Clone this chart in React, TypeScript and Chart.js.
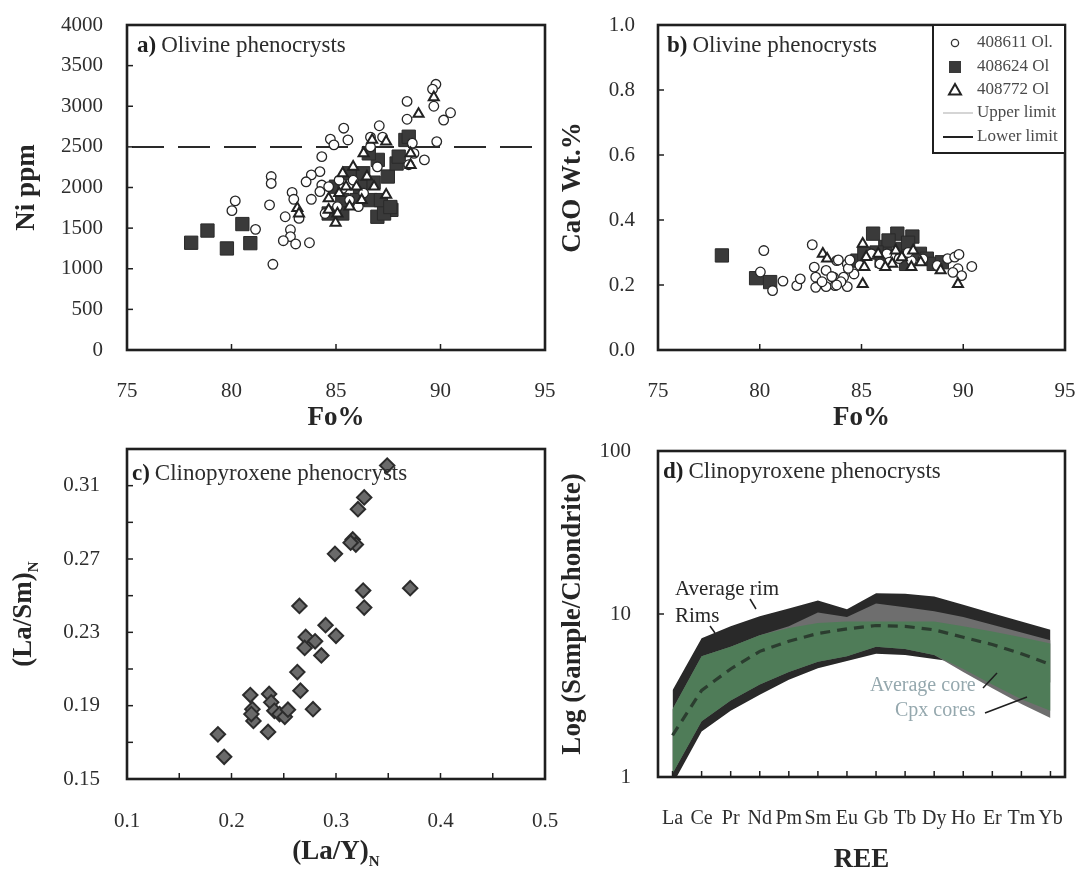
import React, { useEffect, useRef } from "react";
import { Chart, registerables } from "chart.js";

Chart.register(...registerables);

const SERIF = '"Liberation Serif", "Times New Roman", Times, serif';
const INK = "#1f1f1f";
const TICK_INK = "#2e2e2e";

// ---------- Olivine: Fo% vs Ni ppm ----------
const ni611Fo = [89.78, 89.62, 89.68, 88.4, 90.48, 90.15, 88.4, 89.82, 89.23, 88.73, 87.07, 86.65, 87.23, 85.37, 84.73, 85.57, 84.9, 84.32, 84.23, 83.82, 83.57, 84.32, 84.23, 83.82, 82.9, 82.98, 81.9, 81.9, 81.82, 82.57, 82.82, 82.82, 82.48, 83.07, 83.73, 81.15, 80.18, 80.02, 81.98, 83.23, 85.32, 85.65, 84.65, 85.15, 85.82, 86.32, 86.07, 85.07, 84.48, 86.65, 86.98, 88.65, 88.48];
const ni611Ni = [3270, 3210, 3000, 3060, 2920, 2830, 2840, 2565, 2340, 2420, 2760, 2620, 2620, 2730, 2595, 2585, 2525, 2380, 2195, 2155, 2070, 2030, 1950, 1855, 1940, 1855, 2135, 2050, 1785, 1640, 1480, 1395, 1345, 1305, 1320, 1485, 1835, 1715, 1055, 1620, 1990, 1845, 2010, 2090, 2090, 1930, 1765, 1765, 1680, 2500, 2255, 2545, 2280];
const ni624Fo = [78.07, 78.85, 79.78, 80.52, 80.9, 86.98, 87.65, 87.48, 87.9, 88.32, 88.48, 88.0, 87.0, 86.65, 86.15, 85.3, 84.65, 85.0, 85.65, 86.3, 86.57, 87.15, 87.3, 85.3, 85.98, 86.8, 87.6];
const ni624Ni = [1320, 1470, 1250, 1550, 1315, 1640, 1725, 2135, 2295, 2585, 2625, 2380, 2340, 1845, 2010, 1845, 1680, 2010, 2175, 2175, 2420, 1845, 1680, 1680, 1845, 2060, 1760];
const ni772Fo = [89.68, 88.95, 87.4, 86.73, 88.57, 88.57, 83.15, 83.23, 84.98, 85.07, 84.65, 85.15, 85.48, 85.82, 85.32, 86.32, 86.48, 86.23, 87.4, 85.98, 84.65, 86.82, 85.65];
const ni772Ni = [3110, 2905, 2565, 2585, 2275, 2420, 1745, 1680, 1565, 1680, 1865, 1930, 2010, 2255, 2175, 2420, 2135, 1845, 1910, 2010, 1725, 2010, 1765];
const niLimit = 2500;

// ---------- Olivine: Fo% vs CaO wt.% ----------
const ca611Fo = [80.2, 80.03, 80.63, 81.14, 81.82, 81.99, 82.58, 82.68, 82.75, 83.26, 83.78, 84.3, 84.12, 83.7, 82.75, 83.26, 84.3, 84.63, 83.62, 85.48, 85.91, 86.25, 86.85, 87.45, 88.72, 89.23, 89.58, 89.79, 89.74, 89.92, 90.42, 89.49, 83.06, 83.99, 84.92, 86.36, 87.29, 88.02, 83.78, 84.35, 83.86, 84.43, 83.54];
const ca611CaO = [0.306, 0.24, 0.183, 0.212, 0.198, 0.219, 0.324, 0.255, 0.224, 0.245, 0.275, 0.265, 0.224, 0.198, 0.193, 0.195, 0.195, 0.234, 0.224, 0.296, 0.265, 0.296, 0.281, 0.275, 0.26, 0.281, 0.286, 0.294, 0.25, 0.229, 0.257, 0.239, 0.21, 0.21, 0.26, 0.27, 0.3, 0.28, 0.2, 0.251, 0.277, 0.277, 0.226];
const ca624Fo = [78.14, 79.82, 80.51, 85.57, 86.76, 87.5, 86.17, 87.01, 87.87, 88.21, 88.55, 84.8, 85.14, 85.99, 87.19, 86.33, 87.29, 85.74, 88.95];
const ca624CaO = [0.291, 0.221, 0.209, 0.358, 0.358, 0.349, 0.317, 0.311, 0.296, 0.281, 0.265, 0.275, 0.296, 0.275, 0.265, 0.337, 0.33, 0.3, 0.27];
const ca772Fo = [83.1, 83.31, 85.06, 85.06, 85.14, 85.23, 86.51, 87.45, 86.68, 87.54, 88.89, 89.74, 85.82, 86.17, 86.98, 87.91];
const ca772CaO = [0.296, 0.281, 0.327, 0.203, 0.255, 0.286, 0.265, 0.255, 0.306, 0.306, 0.245, 0.203, 0.296, 0.255, 0.285, 0.27];

// ---------- Clinopyroxene: (La/Y)N vs (La/Sm)N ----------
const cpxLaY = [0.349, 0.327, 0.321, 0.316, 0.319, 0.314, 0.299, 0.326, 0.327, 0.371, 0.265, 0.29, 0.3, 0.271, 0.28, 0.27, 0.286, 0.263, 0.266, 0.278, 0.218, 0.22, 0.221, 0.219, 0.236, 0.238, 0.241, 0.246, 0.251, 0.254, 0.235, 0.187, 0.193];
const cpxLaSm = [0.321, 0.3036, 0.2972, 0.2807, 0.2779, 0.2789, 0.2728, 0.2528, 0.2435, 0.2541, 0.2444, 0.2339, 0.2281, 0.2275, 0.2251, 0.2215, 0.2174, 0.2083, 0.1982, 0.1881, 0.1958, 0.1881, 0.1817, 0.1854, 0.1964, 0.1918, 0.1872, 0.1854, 0.1839, 0.1878, 0.1757, 0.1744, 0.1621];
const laYTicks = [0.1, 0.15, 0.2, 0.25, 0.3, 0.35, 0.4, 0.45, 0.5];
const laSmTicks = [0.15, 0.17, 0.19, 0.21, 0.23, 0.25, 0.27, 0.29, 0.31, 0.33];

// ---------- Clinopyroxene REE patterns (chondrite normalised) ----------
const reeLabels = ["La", "Ce", "Pr", "Nd", "Pm", "Sm", "Eu", "Gb", "Tb", "Dy", "Ho", "Er", "Tm", "Yb"];
const rimUpper = [3.4, 7.1, 8.4, 9.7, 10.8, 12.1, 10.7, 13.4, 13.3, 12.8, 11.4, 10.1, 9.0, 8.0];
const rimLower = [0.9, 1.9, 2.55, 3.2, 3.95, 4.65, 5.15, 5.7, 5.6, 5.3, 5.0, 4.6, 4.2, 3.8];
const avgRimUpper = [2.6, 5.5, 6.3, 7.4, 8.4, 10.2, 9.6, 11.6, 11.0, 10.4, 9.6, 8.6, 7.7, 6.9];
const avgRimLower = [1.05, 2.2, 2.95, 3.7, 4.4, 5.1, 5.5, 6.3, 6.1, 5.6, 4.4, 3.5, 2.8, 2.3];
const coreUpper = [2.6, 5.5, 6.3, 7.4, 8.2, 8.8, 9.0, 9.0, 9.0, 9.0, 8.4, 7.8, 7.2, 6.6];
const coreLower = [1.05, 2.2, 2.95, 3.7, 4.4, 5.1, 5.5, 6.3, 6.1, 5.6, 4.6, 3.7, 3.0, 2.55];
const avgCore = [1.8, 3.4, 4.6, 5.9, 6.8, 7.6, 8.1, 8.5, 8.4, 8.0, 7.2, 6.5, 5.7, 4.9];
const reeTicks = [1, 10, 100];

// ---------- page layout (px) ----------
const CANVAS: any = {
  a: { left: 0, top: 0, width: 562, height: 436 },
  b: { left: 540, top: 0, width: 541, height: 436 },
  c: { left: 0, top: 430, width: 562, height: 443 },
  d: { left: 540, top: 430, width: 541, height: 443 },
};
const AREA: any = {
  a: { left: 127, top: 25, right: 545, bottom: 350 },
  b: { left: 658, top: 25, right: 1065, bottom: 350 },
  c: { left: 127, top: 449, right: 545, bottom: 779 },
  d: { left: 658, top: 451, right: 1065, bottom: 777 },
};

const TICK_SIZE = 21;
const TITLE_SIZE = 27;
const LABEL_SIZE = 23;

const zip = (xs: number[], ys: number[]) => xs.map((x, i) => ({ x, y: ys[i] }));

const CIRCLE = { pointStyle: "circle", pointRadius: 4.8, backgroundColor: "#ffffff", borderColor: "#262626", borderWidth: 1.3 };
const SQUARE = { pointStyle: "rect", pointRadius: 9.4, backgroundColor: "#3a3a3a", borderColor: "#2a2a2a", borderWidth: 1 };
const TRIANGLE = { pointStyle: "triangle", pointRadius: 5.8, backgroundColor: "#ffffff", borderColor: "#222222", borderWidth: 2 };

function place(key: string) {
  const c = CANVAS[key];
  const r = AREA[key];
  return {
    padding: { left: 0, top: r.top - c.top, right: c.left + c.width - r.right, bottom: 0 },
    yWidth: r.left - c.left,
    xHeight: c.top + c.height - r.bottom,
  };
}

// fixed-size axis boxes; label overhang must not shrink the plot area
const fixSize = (dim: "width" | "height", size: number) => (s: any) => {
  s[dim] = size;
  s.paddingLeft = 0;
  s.paddingRight = 0;
  s.paddingTop = 0;
  s.paddingBottom = 0;
};

function axis(extra: any, fit: (s: any) => void, pad: number, fmt: (v: number) => string, size = TICK_SIZE) {
  return {
    ...extra,
    ticks: {
      ...(extra.ticks || {}),
      padding: pad,
      autoSkip: false,
      maxRotation: 0,
      color: TICK_INK,
      font: { family: SERIF, size },
      callback: (v: any, i: number, ticks: any[]) => fmt(typeof v === "number" ? v : ticks[i].value),
    },
    grid: { display: false, drawTicks: false },
    border: { display: false },
    afterFit: fit,
  };
}

// Plot frame with short tick marks pointing into the plot
const framePlugin = {
  id: "frame",
  afterDraw(chart: any) {
    const { ctx, chartArea: a } = chart;
    const xs = chart.scales.x;
    const ys = chart.scales.y;
    ctx.save();
    ctx.strokeStyle = INK;
    ctx.lineWidth = 1.5;
    xs.ticks.forEach((_t: any, i: number) => {
      const px = xs.getPixelForTick(i);
      ctx.beginPath();
      ctx.moveTo(px, a.bottom);
      ctx.lineTo(px, a.bottom - 6);
      ctx.stroke();
    });
    ys.ticks.forEach((_t: any, i: number) => {
      const py = ys.getPixelForTick(i);
      ctx.beginPath();
      ctx.moveTo(a.left, py);
      ctx.lineTo(a.left + 6, py);
      ctx.stroke();
    });
    ctx.lineWidth = 2.6;
    ctx.strokeRect(a.left, a.top, a.right - a.left, a.bottom - a.top);
    ctx.restore();
  },
};

function panelLabel(ctx: any, x: number, y: number, tag: string, text: string) {
  ctx.save();
  ctx.textAlign = "left";
  ctx.textBaseline = "alphabetic";
  ctx.fillStyle = INK;
  ctx.font = `bold ${LABEL_SIZE}px ${SERIF}`;
  ctx.fillText(tag, x, y);
  const w = ctx.measureText(tag).width;
  ctx.fillStyle = "#2c2c2c";
  ctx.font = `${LABEL_SIZE}px ${SERIF}`;
  ctx.fillText(text, x + w + 5, y);
  ctx.restore();
}

function axisTitle(ctx: any, cx: number, cy: number, main: string, sub: string, vertical: boolean, size = TITLE_SIZE) {
  ctx.save();
  ctx.translate(cx, cy);
  if (vertical) ctx.rotate(-Math.PI / 2);
  ctx.fillStyle = "#262626";
  ctx.textAlign = "left";
  ctx.textBaseline = "middle";
  ctx.font = `bold ${size}px ${SERIF}`;
  const w1 = ctx.measureText(main).width;
  let w2 = 0;
  const subSize = Math.round(size * 0.55);
  if (sub) {
    ctx.font = `bold ${subSize}px ${SERIF}`;
    w2 = ctx.measureText(sub).width;
  }
  const x0 = -(w1 + w2) / 2;
  ctx.font = `bold ${size}px ${SERIF}`;
  ctx.fillText(main, x0, 0);
  if (sub) {
    ctx.font = `bold ${subSize}px ${SERIF}`;
    ctx.fillText(sub, x0 + w1, size * 0.38);
  }
  ctx.restore();
}

function textLayer(key: string, draw: (ctx: any, a: any, L: (x: number, y: number) => [number, number]) => void) {
  const c = CANVAS[key];
  const L = (x: number, y: number): [number, number] => [x - c.left, y - c.top];
  return {
    id: "text-" + key,
    afterDraw(chart: any) {
      draw(chart.ctx, chart.chartArea, L);
    },
  };
}

function baseOptions(p: any, scales: any) {
  return {
    animation: false,
    responsive: false,
    devicePixelRatio: 1,
    layout: { padding: p.padding },
    plugins: { legend: { display: false }, tooltip: { enabled: false } },
    events: [],
    scales,
  };
}

const intFmt = (v: number) => String(Math.round(v));

function foAxis(p: any) {
  return axis({ type: "linear", min: 75, max: 95, ticks: { stepSize: 5 } }, fixSize("height", p.xHeight), 29, intFmt);
}

function configA() {
  const p = place("a");
  return {
    type: "scatter",
    data: {
      datasets: [
        { label: "Ni limit", data: [{ x: 75, y: niLimit }, { x: 95, y: niLimit }], showLine: true, borderColor: "#2a2a2a", borderWidth: 2, borderDash: [32, 14], borderDashOffset: 41, pointRadius: 0, order: 4 },
        { label: "408624 Ol", data: zip(ni624Fo, ni624Ni), ...SQUARE, order: 3 },
        { label: "408611 Ol.", data: zip(ni611Fo, ni611Ni), ...CIRCLE, order: 2 },
        { label: "408772 Ol", data: zip(ni772Fo, ni772Ni), ...TRIANGLE, order: 1 },
      ],
    },
    options: baseOptions(p, {
      x: foAxis(p),
      y: axis({ type: "linear", min: 0, max: 4000, ticks: { stepSize: 500 } }, fixSize("width", p.yWidth), 24, intFmt),
    }),
    plugins: [
      framePlugin,
      textLayer("a", (ctx, a, L) => {
        panelLabel(ctx, a.left + 10, a.top + 27, "a)", "Olivine phenocrysts");
        axisTitle(ctx, ...L(27, (AREA.a.top + AREA.a.bottom) / 2), "Ni ppm", "", true);
        axisTitle(ctx, ...L((AREA.a.left + AREA.a.right) / 2, 418), "Fo%", "", false);
      }),
    ],
  };
}

function drawLegendB(ctx: any, a: any) {
  const w = 132;
  const h = 128;
  const x0 = a.right - w;
  const y0 = a.top;
  ctx.save();
  ctx.fillStyle = "#ffffff";
  ctx.fillRect(x0, y0, w, h);
  ctx.strokeStyle = INK;
  ctx.lineWidth = 2;
  ctx.strokeRect(x0, y0, w, h);
  const mx = x0 + 22;
  const tx = x0 + 44;
  const rows = [18, 42, 65, 88, 112].map((d) => y0 + d);
  // circle
  ctx.beginPath();
  ctx.arc(mx, rows[0], 3.6, 0, Math.PI * 2);
  ctx.fillStyle = "#fff";
  ctx.fill();
  ctx.lineWidth = 1.3;
  ctx.strokeStyle = "#333";
  ctx.stroke();
  // square
  ctx.fillStyle = "#3a3a3a";
  ctx.fillRect(mx - 6, rows[1] - 6, 12, 12);
  // triangle
  ctx.beginPath();
  ctx.moveTo(mx, rows[2] - 6);
  ctx.lineTo(mx + 6, rows[2] + 4.5);
  ctx.lineTo(mx - 6, rows[2] + 4.5);
  ctx.closePath();
  ctx.fillStyle = "#fff";
  ctx.fill();
  ctx.lineWidth = 2;
  ctx.strokeStyle = "#222";
  ctx.stroke();
  // limit lines
  ctx.lineWidth = 1.2;
  ctx.strokeStyle = "#b9b9b9";
  ctx.beginPath();
  ctx.moveTo(x0 + 10, rows[3]);
  ctx.lineTo(x0 + 40, rows[3]);
  ctx.stroke();
  ctx.lineWidth = 2;
  ctx.strokeStyle = "#222";
  ctx.beginPath();
  ctx.moveTo(x0 + 10, rows[4]);
  ctx.lineTo(x0 + 40, rows[4]);
  ctx.stroke();
  ctx.fillStyle = "#4a4a4a";
  ctx.font = `17px ${SERIF}`;
  ctx.textAlign = "left";
  ctx.textBaseline = "middle";
  ["408611 Ol.", "408624 Ol", "408772 Ol", "Upper limit", "Lower limit"].forEach((t, i) => ctx.fillText(t, tx, rows[i]));
  ctx.restore();
}

function configB() {
  const p = place("b");
  return {
    type: "scatter",
    data: {
      datasets: [
        { label: "408624 Ol", data: zip(ca624Fo, ca624CaO), ...SQUARE, order: 3 },
        { label: "408611 Ol.", data: zip(ca611Fo, ca611CaO), ...CIRCLE, order: 2 },
        { label: "408772 Ol", data: zip(ca772Fo, ca772CaO), ...TRIANGLE, order: 1 },
      ],
    },
    options: baseOptions(p, {
      x: foAxis(p),
      y: axis({ type: "linear", min: 0, max: 1, ticks: { stepSize: 0.2 } }, fixSize("width", p.yWidth), 23, (v) => v.toFixed(1)),
    }),
    plugins: [
      framePlugin,
      textLayer("b", (ctx, a, L) => {
        panelLabel(ctx, a.left + 9, a.top + 27, "b)", "Olivine phenocrysts");
        drawLegendB(ctx, a);
        axisTitle(ctx, ...L(573, (AREA.b.top + AREA.b.bottom) / 2), "CaO Wt.%", "", true);
        axisTitle(ctx, ...L((AREA.b.left + AREA.b.right) / 2, 418), "Fo%", "", false);
      }),
    ],
  };
}

function configC() {
  const p = place("c");
  const near = (v: number, step: number, base: number) => Math.abs((v - base) / step - Math.round((v - base) / step)) < 1e-6;
  return {
    type: "scatter",
    data: {
      datasets: [
        { label: "Cpx", data: zip(cpxLaY, cpxLaSm), pointStyle: "rectRot", pointRadius: 7.2, backgroundColor: "#6a6a6a", borderColor: "#2c2c2c", borderWidth: 2 },
      ],
    },
    options: baseOptions(p, {
      x: axis(
        { type: "linear", min: 0.1, max: 0.5, afterBuildTicks: (s: any) => { s.ticks = laYTicks.map((value) => ({ value })); } },
        fixSize("height", p.xHeight), 30,
        (v) => (near(v, 0.1, 0) ? v.toFixed(1) : "")
      ),
      y: axis(
        { type: "linear", min: 0.15, max: 0.33, afterBuildTicks: (s: any) => { s.ticks = laSmTicks.map((value) => ({ value })); } },
        fixSize("width", p.yWidth), 27,
        (v) => (near(v, 0.04, 0.15) ? v.toFixed(2) : "")
      ),
    }),
    plugins: [
      framePlugin,
      textLayer("c", (ctx, a, L) => {
        panelLabel(ctx, a.left + 5, a.top + 31, "c)", "Clinopyroxene phenocrysts");
        axisTitle(ctx, ...L(24, (AREA.c.top + AREA.c.bottom) / 2), "(La/Sm)", "N", true);
        axisTitle(ctx, ...L((AREA.c.left + AREA.c.right) / 2, 852), "(La/Y)", "N", false);
      }),
    ],
  };
}

function configD() {
  const p = place("d");
  const hidden = { fill: false, borderColor: "rgba(0,0,0,0)", borderWidth: 0, pointRadius: 0, tension: 0 };
  const band = (data: number[], color: string, order: number, label: string) => ({
    label, data, fill: "+1", backgroundColor: color, borderColor: "rgba(0,0,0,0)", borderWidth: 0, pointRadius: 0, tension: 0, order,
  });
  return {
    type: "line",
    data: {
      labels: reeLabels,
      datasets: [
        band(rimUpper, "#292929", 6, "Rims"),
        { ...hidden, label: "Rims low", data: rimLower, order: 6 },
        band(avgRimUpper, "#6e6e6e", 4, "Average rim"),
        { ...hidden, label: "Average rim low", data: avgRimLower, order: 4 },
        band(coreUpper, "#4f7c58", 2, "Cpx cores"),
        { ...hidden, label: "Cpx cores low", data: coreLower, order: 2 },
        { label: "Average core", data: avgCore, fill: false, borderColor: "#2b3d2f", borderWidth: 3.2, borderDash: [10, 7], pointRadius: 0, tension: 0, order: 0 },
      ],
    },
    options: baseOptions(p, {
      x: axis({ type: "category", offset: true }, fixSize("height", p.xHeight), 30, (v) => reeLabels[v] ?? "", 20),
      y: axis(
        { type: "logarithmic", min: 1, max: 100, afterBuildTicks: (s: any) => { s.ticks = reeTicks.map((value) => ({ value })); } },
        fixSize("width", p.yWidth), 27, (v) => String(v)
      ),
    }),
    plugins: [
      framePlugin,
      textLayer("d", (ctx, a, L) => {
        panelLabel(ctx, a.left + 5, a.top + 27, "d)", "Clinopyroxene phenocrysts");
        ctx.save();
        ctx.textAlign = "left";
        ctx.textBaseline = "alphabetic";
        ctx.font = `21px ${SERIF}`;
        ctx.fillStyle = "#262626";
        ctx.fillText("Average rim", ...L(675, 595));
        ctx.fillText("Rims", ...L(675, 622));
        ctx.fillStyle = "#95a8ae";
        ctx.font = `20px ${SERIF}`;
        ctx.fillText("Average core", ...L(870, 691));
        ctx.fillText("Cpx cores", ...L(895, 716));
        ctx.strokeStyle = "#1f1f1f";
        ctx.lineWidth = 1.5;
        const seg = (x1: number, y1: number, x2: number, y2: number) => {
          ctx.beginPath();
          ctx.moveTo(...L(x1, y1));
          ctx.lineTo(...L(x2, y2));
          ctx.stroke();
        };
        seg(750, 599, 756, 609);
        seg(710, 626, 715, 633);
        seg(983, 688, 997, 673);
        seg(985, 713, 1027, 697);
        ctx.restore();
        axisTitle(ctx, ...L(573, (AREA.d.top + AREA.d.bottom) / 2), "Log (Sample/Chondrite)", "", true);
        axisTitle(ctx, ...L((AREA.d.left + AREA.d.right) / 2, 860), "REE", "", false);
      }),
    ],
  };
}

function Panel({ box, make }: { box: any; make: () => any }) {
  const ref = useRef<HTMLCanvasElement>(null);
  useEffect(() => {
    const chart = new Chart(ref.current as HTMLCanvasElement, make());
    return () => chart.destroy();
  }, []);
  return (
    <canvas
      ref={ref}
      width={box.width}
      height={box.height}
      style={{ position: "absolute", left: box.left, top: box.top, width: box.width, height: box.height }}
    />
  );
}

export default function App() {
  return (
    <div style={{ position: "absolute", left: 0, top: 0, width: 1081, height: 873, background: "#ffffff", overflow: "hidden" }}>
      <Panel box={CANVAS.a} make={configA} />
      <Panel box={CANVAS.b} make={configB} />
      <Panel box={CANVAS.c} make={configC} />
      <Panel box={CANVAS.d} make={configD} />
    </div>
  );
}
